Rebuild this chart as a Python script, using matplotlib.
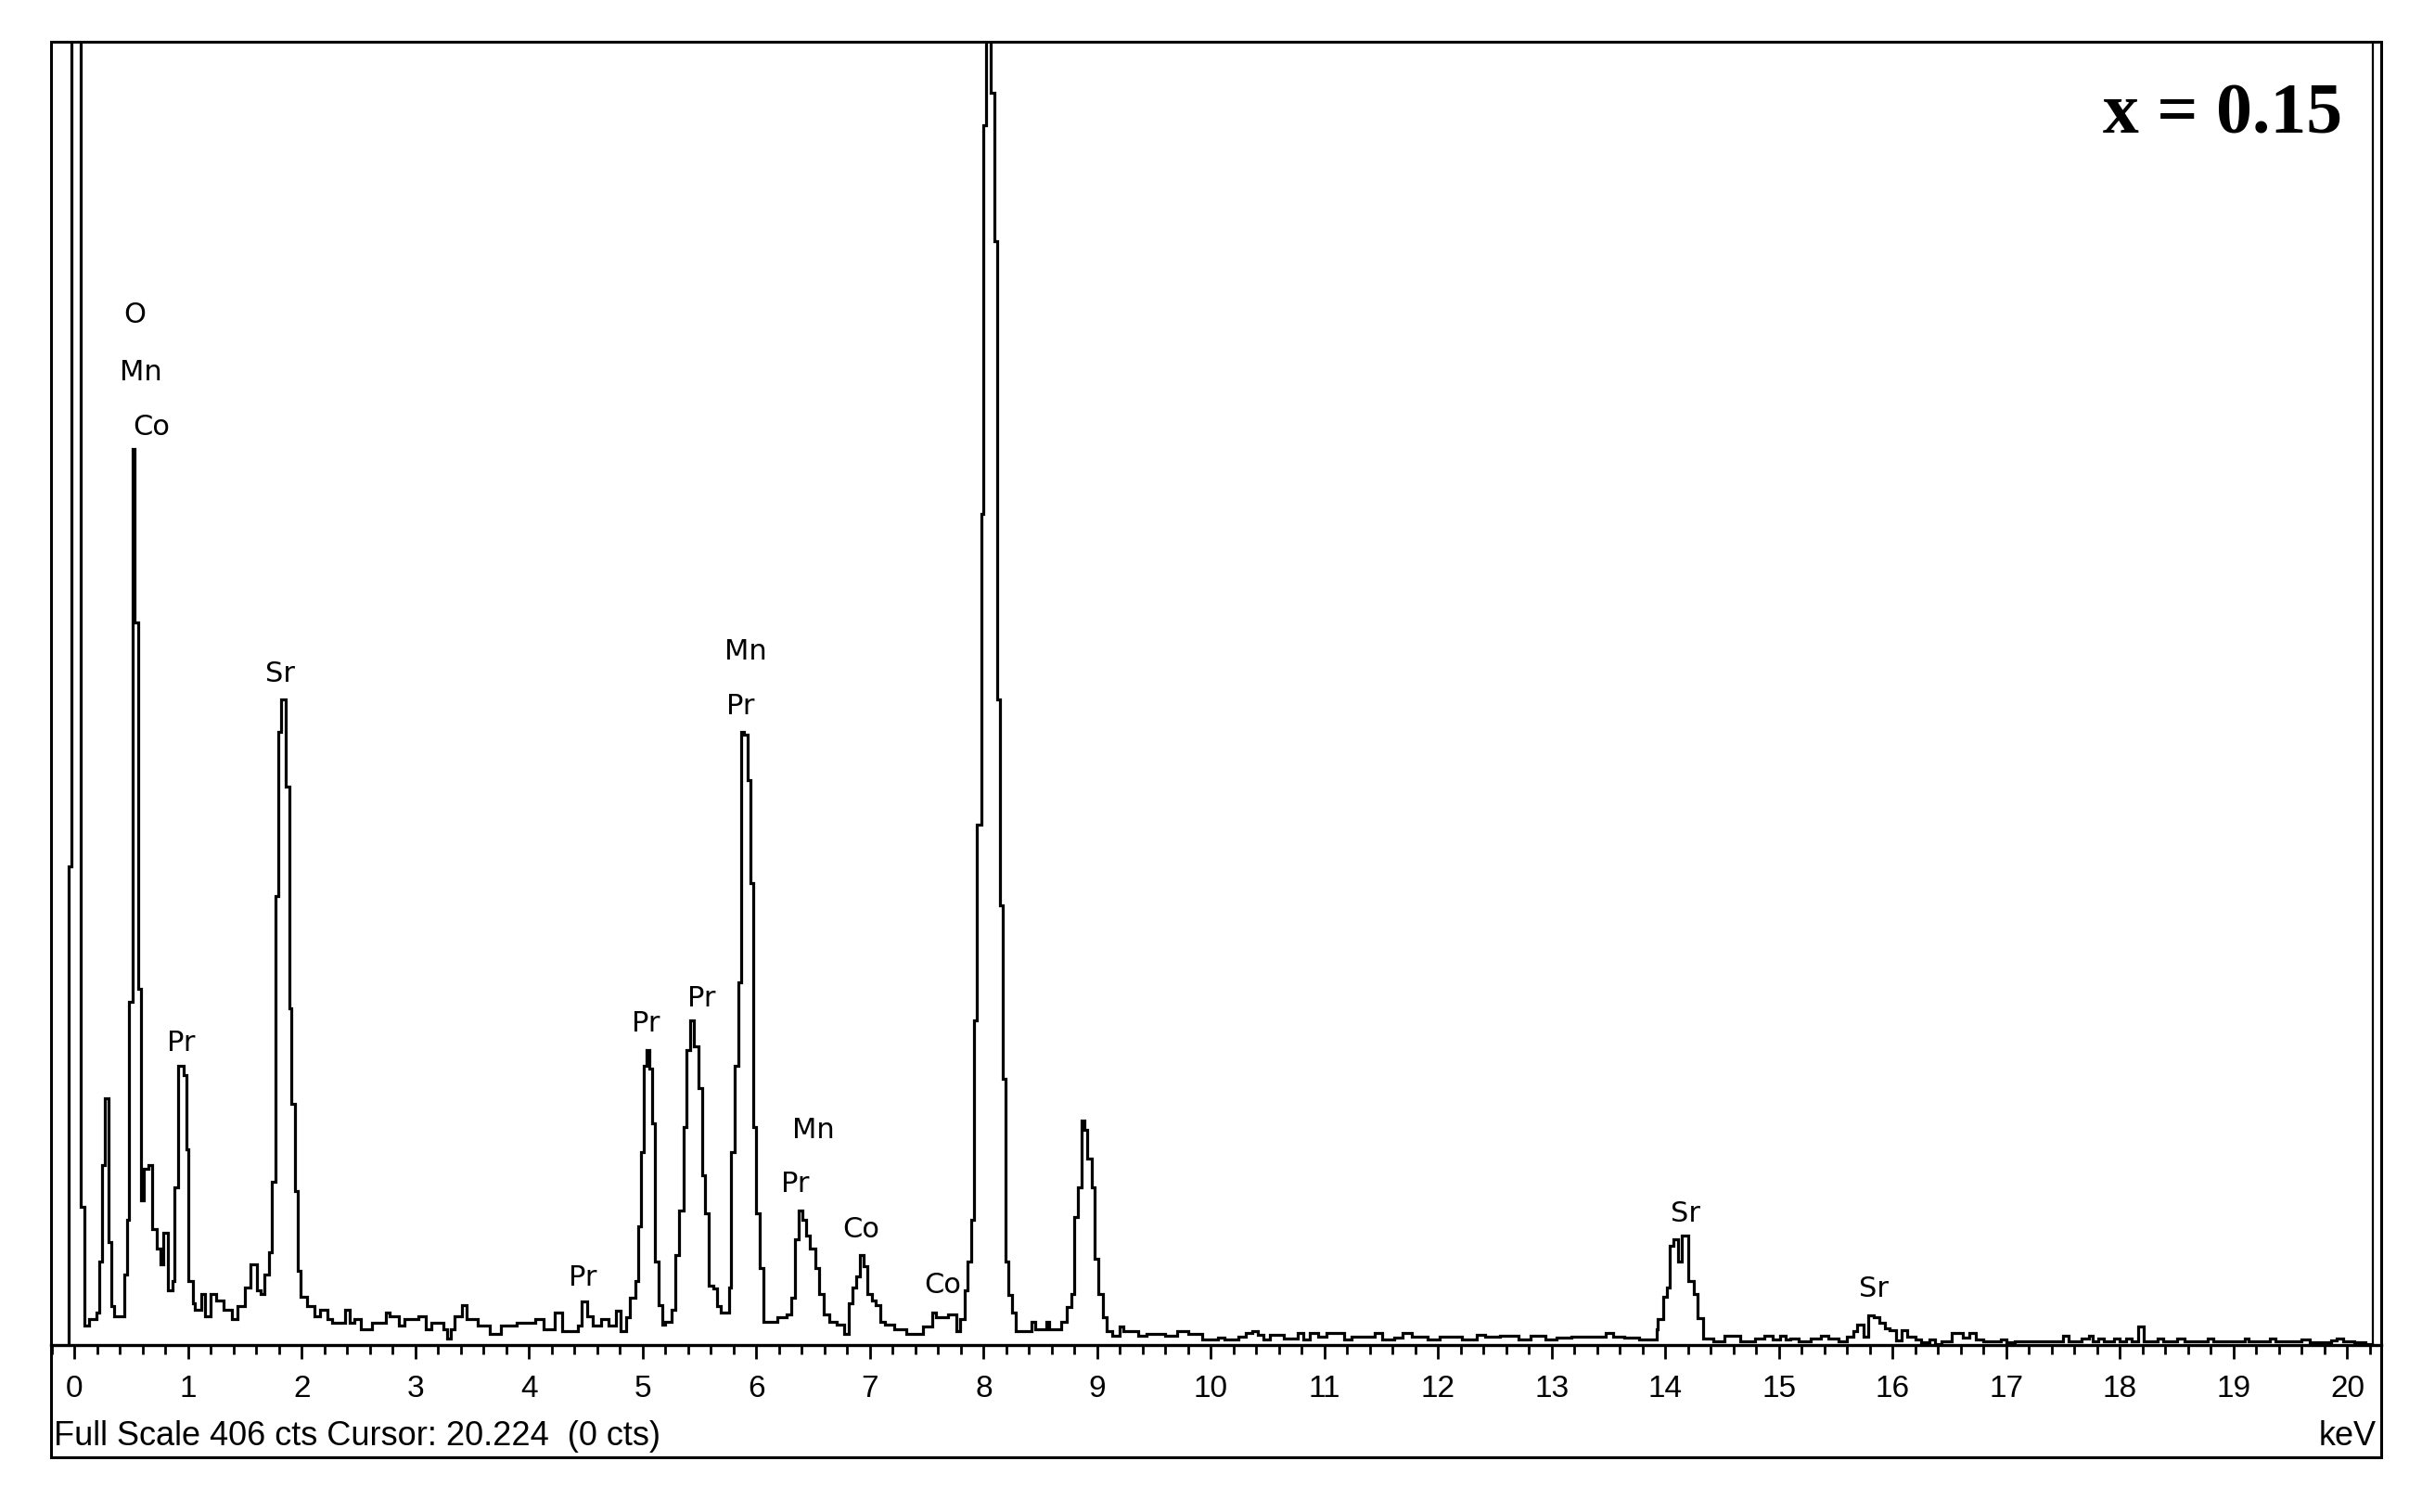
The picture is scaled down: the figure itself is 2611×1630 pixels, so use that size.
import numpy as np
import matplotlib
matplotlib.use("Agg")
import matplotlib.pyplot as plt
from matplotlib.patches import Rectangle
from matplotlib.ticker import MultipleLocator

# EDS spectrum: step start energies (keV) and counts per step
seg_kev = [
    -0.052, -0.030, 0.054, 0.084, 0.13, 0.19, 0.216, 0.243, 0.266, 0.300, 0.324, 0.351, 0.436, 0.463, 0.481, 0.508, 0.530, 0.558, 0.585, 0.607,
    0.650, 0.679, 0.723, 0.757, 0.781, 0.825, 0.859, 0.882, 0.909, 0.960, 0.984, 1.004, 1.038, 1.062, 1.112, 1.146, 1.197, 1.248, 1.315, 1.383,
    1.434, 1.502, 1.552, 1.603, 1.637, 1.671, 1.711, 1.738, 1.765, 1.792, 1.819, 1.860, 1.888, 1.908, 1.941, 1.965, 1.992, 2.043,
    2.110, 2.161, 2.222, 2.263, 2.381, 2.425, 2.466, 2.517, 2.618, 2.736, 2.770, 2.855, 2.906, 3.024, 3.092, 3.143, 3.244, 3.280, 3.310, 3.346,
    3.413, 3.447, 3.549, 3.650, 3.752, 3.887, 4.057, 4.124, 4.226, 4.293, 4.428, 4.462, 4.513, 4.564, 4.632, 4.700, 4.767, 4.801, 4.852, 4.886,
    4.937, 4.964, 4.988, 5.010, 5.035, 5.060, 5.086, 5.110, 5.140, 5.170, 5.198, 5.255, 5.290, 5.320, 5.356, 5.384, 5.418, 5.450, 5.490, 5.520,
    5.550, 5.580, 5.620, 5.655, 5.690, 5.760, 5.780, 5.810, 5.840, 5.865, 5.890, 5.920, 5.946, 5.973, 6.000, 6.027, 6.060, 6.186, 6.270, 6.310,
    6.340, 6.370, 6.406, 6.440, 6.470, 6.520, 6.550, 6.590, 6.640, 6.710, 6.770, 6.810, 6.846, 6.880, 6.907, 6.940, 6.980, 7.015, 7.050, 7.090,
    7.130, 7.210, 7.320, 7.470, 7.550, 7.580, 7.690, 7.760, 7.790, 7.830, 7.860, 7.890, 7.915, 7.942, 7.980, 7.997, 8.024, 8.066, 8.093, 8.120,
    8.140, 8.166, 8.190, 8.216, 8.250, 8.280, 8.420, 8.450, 8.550, 8.580, 8.680, 8.730, 8.770, 8.800, 8.830, 8.860, 8.890, 8.910, 8.950, 8.980,
    9.010, 9.050, 9.080, 9.130, 9.200, 9.230, 9.360, 9.430, 9.600, 9.700, 9.800, 9.920, 10.06, 10.12, 10.24, 10.31, 10.36, 10.41, 10.46, 10.52,
    10.64, 10.76, 10.81, 10.87, 10.94, 11.02, 11.17, 11.24, 11.34, 11.44, 11.51, 11.61, 11.69, 11.77, 11.91, 12.01, 12.21, 12.34, 12.41, 12.54,
    12.71, 12.81, 12.94, 13.04, 13.17, 13.34, 13.47, 13.54, 13.64, 13.77, 13.92, 13.93, 13.98, 14.01, 14.04, 14.07, 14.11, 14.14, 14.20, 14.25,
    14.28, 14.33, 14.42, 14.52, 14.66, 14.79, 14.87, 14.94, 15.01, 15.06, 15.10, 15.17, 15.28, 15.37, 15.43, 15.52, 15.60, 15.65, 15.69, 15.74,
    15.78, 15.83, 15.88, 15.93, 15.97, 16.03, 16.08, 16.13, 16.20, 16.25, 16.32, 16.37, 16.43, 16.52, 16.62, 16.67, 16.73, 16.80, 16.95, 17.00,
    17.07, 17.50, 17.55, 17.66, 17.73, 17.76, 17.81, 17.86, 17.95, 18.00, 18.05, 18.10, 18.16, 18.21, 18.33, 18.38, 18.50, 18.57, 18.77, 18.82,
    19.10, 19.13, 19.32, 19.37, 19.60, 19.67, 19.86, 19.91, 19.96, 20.06, 20.16,
]
seg_cts = [
    149, 450, 43, 6, 8, 10, 26, 56, 77, 32, 12, 9, 22, 39, 107, 279, 225, 111, 45, 55,
    56, 36, 30, 25, 35, 17, 20, 49, 87, 84, 61, 20, 13, 11, 16, 9, 16, 14, 11, 8,
    12, 18, 25, 17, 16, 22, 29, 51, 140, 191, 201, 174, 105, 75, 48, 23, 15, 12,
    9, 11, 8, 7, 11, 7, 8, 5, 7, 10, 9, 6, 8, 9, 5, 7, 5, 2, 5, 9,
    12.5, 8, 6, 3.5, 6, 7, 8, 5, 10, 4.3, 6, 13.5, 9, 6, 8, 6, 10.6, 4.3, 8.7, 14.7,
    20, 37, 60, 87, 92, 86, 69, 26, 12.5, 6.5, 7.3, 11, 28, 42, 68, 92, 101, 93, 80, 53,
    41, 18.5, 17.7, 12, 10, 18, 60, 87, 113, 191, 190, 176, 144, 68, 41, 24, 7.3, 8.8, 9.5, 14.7,
    33, 42, 39, 34, 30, 24, 16, 9.5, 7.3, 6.5, 3.5, 13, 18, 21.5, 28, 24.5, 16, 14, 12.5, 7.3,
    6.5, 5, 3.5, 5.8, 10, 8.8, 9.5, 4.3, 8, 17, 26, 39, 101, 162, 259, 380, 450, 390, 344, 201,
    137, 83, 26, 15.5, 10, 4.3, 7.3, 5, 7.3, 5, 7.3, 11.8, 16, 40, 49, 70, 67, 58, 49, 27,
    16, 8.8, 4.3, 2.8, 5.8, 4.3, 2.8, 3.5, 2.8, 4.3, 3.5, 1.7, 2.2, 1.7, 2.7, 3.7, 4.2, 3.2, 1.7, 3.2,
    1.9, 3.7, 1.7, 3.7, 2.5, 3.7, 1.7, 2.7, 2.5, 3.9, 1.7, 2.2, 3.9, 2.7, 1.7, 2.7, 1.7, 3.2, 2.7, 2.9,
    1.7, 2.9, 1.7, 2.2, 2.5, 2.7, 3.9, 2.7, 2.2, 1.7, 5, 8, 15, 18, 31, 33, 26, 34, 20, 16,
    8.5, 2, 1.3, 2.9, 1.3, 2, 2.9, 1.7, 2.9, 1.7, 1.9, 1.3, 2, 2.9, 2, 1.3, 2.7, 4.4, 6.5, 2.7,
    9.2, 8.7, 7, 5.1, 4.6, 1.5, 4.6, 2.7, 1.7, 0.8, 1.7, 0.3, 1.3, 3.7, 2.2, 3.7, 1.7, 1.3, 1.7, 0.8,
    1.3, 2.9, 1.3, 2, 2.9, 1.3, 2, 1.3, 2, 1.3, 2, 1.3, 5.8, 1.3, 2, 1.3, 2, 1.3, 2, 1.3,
    2, 1.3, 2, 1.3, 1.7, 0.8, 1.5, 2, 1.3, 0.8, 0.3,
]
spectrum_end = 20.22

# peak labels: element, energy (keV), height (cts) of the label centre
peak_names = ["O", "Mn", "Co", "Pr", "Sr", "Pr", "Pr", "Pr", "Mn", "Pr", "Mn", "Pr", "Co", "Co", "Sr", "Sr"]
peak_kev = [0.527, 0.585, 0.674, 0.935, 1.809, 4.470, 5.025, 5.515, 5.907, 5.858, 6.502, 6.339, 6.919, 7.638, 14.172, 15.833]
peak_lbl_cts = [321, 303, 286, 94, 209, 21, 100, 108, 216, 199, 67, 50, 36, 18.5, 41, 17.6]

full_scale = 406
cursor_kev = 20.224
sample_label = "x = 0.15"
status_text = "Full Scale 406 cts Cursor: 20.224  (0 cts)"

W, H = 2611, 1630
fig = plt.figure(figsize=(W / 100, H / 100), dpi=100)
fig.patch.set_facecolor("white")

sans = ["Liberation Sans", "DejaVu Sans"]

ax = fig.add_axes([55 / W, 1 - 1450 / H, (2567 - 55) / W, (1450 - 45) / H])
ax.stairs(seg_cts, seg_kev + [spectrum_end], color="black", lw=2.3, baseline=0)
ax.axvline(cursor_kev, color="black", lw=1.6)

ax.set_xlim(-0.207, 20.298)
ax.set_ylim(0, full_scale)

for s in ["top", "left", "right"]:
    ax.spines[s].set_visible(False)
ax.spines["bottom"].set_linewidth(2.4)

ax.xaxis.set_major_locator(MultipleLocator(1))
ax.xaxis.set_minor_locator(MultipleLocator(0.2))
ax.tick_params(axis="x", which="major", direction="out", length=11, width=2.0, pad=12, labelsize=24)
ax.tick_params(axis="x", which="minor", direction="out", length=7, width=2.0)
ax.set_yticks([])
for lbl in ax.get_xticklabels():
    lbl.set_fontfamily(sans)

for name, e, c in zip(peak_names, peak_kev, peak_lbl_cts):
    ax.text(e, c, name, ha="center", va="center", fontsize=22, family="DejaVu Sans")

# outer box of the screenshot
fig.add_artist(Rectangle((55 / W, 1 - 1571 / H), (2567 - 55) / W, (1571 - 45) / H,
                         transform=fig.transFigure, fill=False, lw=2.2, ec="black"))

fig.text(58 / W, 1 - 1548 / H, status_text, ha="left", va="center", fontsize=26, family=sans)
fig.text(2562 / W, 1 - 1548 / H, "keV", ha="right", va="center", fontsize=26, family=sans)
fig.text(2525 / W, 1 - 143 / H, sample_label, ha="right", va="baseline", fontsize=56,
         family="Liberation Serif", weight="bold")

fig.savefig("out.png", dpi=100, facecolor="white")
